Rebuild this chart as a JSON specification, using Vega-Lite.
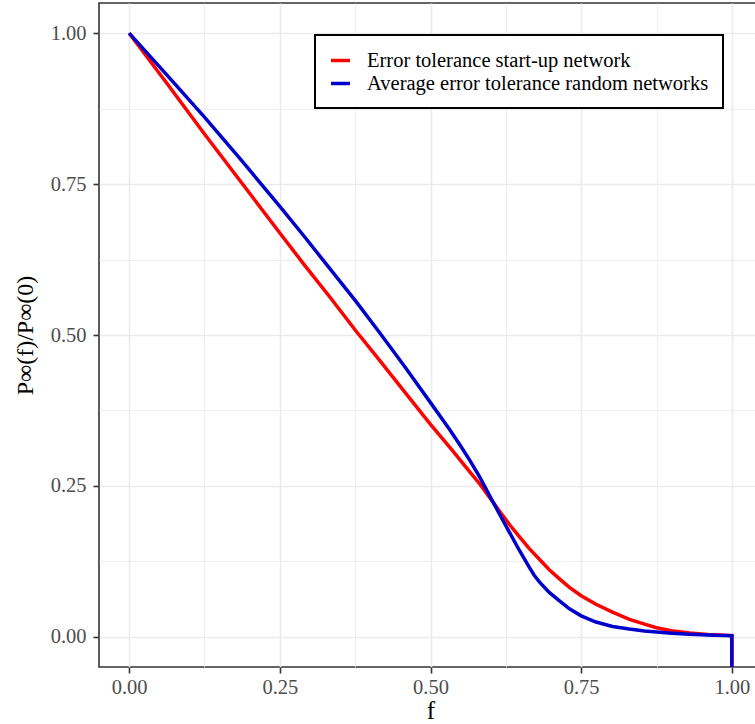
{
  "$schema": "https://vega.github.io/schema/vega-lite/v6.json",
  "width": 663,
  "height": 664,
  "autosize": {"type": "none"},
  "padding": {"left": 99, "top": 3, "right": 0, "bottom": 57},
  "background": "white",
  "config": {
    "view": {"stroke": "#333333", "strokeWidth": 1.6},
    "font": "Liberation Serif",
    "legend": {"strokeWidth": 2}
  },
  "data": {
    "values": [
      {"series": "Error tolerance start-up network", "i": 0, "f": 0, "p": 1.0},
      {"series": "Error tolerance start-up network", "i": 1, "f": 0.0625, "p": 0.917},
      {"series": "Error tolerance start-up network", "i": 2, "f": 0.125, "p": 0.833},
      {"series": "Error tolerance start-up network", "i": 3, "f": 0.1875, "p": 0.751},
      {"series": "Error tolerance start-up network", "i": 4, "f": 0.25, "p": 0.669},
      {"series": "Error tolerance start-up network", "i": 5, "f": 0.29, "p": 0.617},
      {"series": "Error tolerance start-up network", "i": 6, "f": 0.333, "p": 0.563},
      {"series": "Error tolerance start-up network", "i": 7, "f": 0.376, "p": 0.507},
      {"series": "Error tolerance start-up network", "i": 8, "f": 0.4163, "p": 0.457},
      {"series": "Error tolerance start-up network", "i": 9, "f": 0.4577, "p": 0.405},
      {"series": "Error tolerance start-up network", "i": 10, "f": 0.5, "p": 0.352},
      {"series": "Error tolerance start-up network", "i": 11, "f": 0.5345, "p": 0.311},
      {"series": "Error tolerance start-up network", "i": 12, "f": 0.5655, "p": 0.273},
      {"series": "Error tolerance start-up network", "i": 13, "f": 0.582, "p": 0.253},
      {"series": "Error tolerance start-up network", "i": 14, "f": 0.598, "p": 0.231},
      {"series": "Error tolerance start-up network", "i": 15, "f": 0.614, "p": 0.209},
      {"series": "Error tolerance start-up network", "i": 16, "f": 0.631, "p": 0.186},
      {"series": "Error tolerance start-up network", "i": 17, "f": 0.648, "p": 0.165},
      {"series": "Error tolerance start-up network", "i": 18, "f": 0.664, "p": 0.146},
      {"series": "Error tolerance start-up network", "i": 19, "f": 0.681, "p": 0.128},
      {"series": "Error tolerance start-up network", "i": 20, "f": 0.697, "p": 0.111},
      {"series": "Error tolerance start-up network", "i": 21, "f": 0.714, "p": 0.096},
      {"series": "Error tolerance start-up network", "i": 22, "f": 0.7305, "p": 0.082},
      {"series": "Error tolerance start-up network", "i": 23, "f": 0.75, "p": 0.068},
      {"series": "Error tolerance start-up network", "i": 24, "f": 0.7745, "p": 0.054},
      {"series": "Error tolerance start-up network", "i": 25, "f": 0.802, "p": 0.041},
      {"series": "Error tolerance start-up network", "i": 26, "f": 0.83, "p": 0.029},
      {"series": "Error tolerance start-up network", "i": 27, "f": 0.855, "p": 0.021},
      {"series": "Error tolerance start-up network", "i": 28, "f": 0.875, "p": 0.015},
      {"series": "Error tolerance start-up network", "i": 29, "f": 0.9, "p": 0.01},
      {"series": "Error tolerance start-up network", "i": 30, "f": 0.93, "p": 0.0065},
      {"series": "Error tolerance start-up network", "i": 31, "f": 0.96, "p": 0.004},
      {"series": "Error tolerance start-up network", "i": 32, "f": 1.0, "p": 0.002},
      {"series": "Error tolerance start-up network", "i": 33, "f": 1.0, "p": -0.06},
      {"series": "Average error tolerance random networks", "i": 0, "f": 0, "p": 1.0},
      {"series": "Average error tolerance random networks", "i": 1, "f": 0.0625, "p": 0.931},
      {"series": "Average error tolerance random networks", "i": 2, "f": 0.125, "p": 0.861},
      {"series": "Average error tolerance random networks", "i": 3, "f": 0.1875, "p": 0.788},
      {"series": "Average error tolerance random networks", "i": 4, "f": 0.25, "p": 0.713},
      {"series": "Average error tolerance random networks", "i": 5, "f": 0.29, "p": 0.664},
      {"series": "Average error tolerance random networks", "i": 6, "f": 0.333, "p": 0.61},
      {"series": "Average error tolerance random networks", "i": 7, "f": 0.376, "p": 0.556},
      {"series": "Average error tolerance random networks", "i": 8, "f": 0.4163, "p": 0.503},
      {"series": "Average error tolerance random networks", "i": 9, "f": 0.4577, "p": 0.447},
      {"series": "Average error tolerance random networks", "i": 10, "f": 0.5, "p": 0.388},
      {"series": "Average error tolerance random networks", "i": 11, "f": 0.532, "p": 0.343},
      {"series": "Average error tolerance random networks", "i": 12, "f": 0.55, "p": 0.316},
      {"series": "Average error tolerance random networks", "i": 13, "f": 0.5655, "p": 0.292},
      {"series": "Average error tolerance random networks", "i": 14, "f": 0.582, "p": 0.264},
      {"series": "Average error tolerance random networks", "i": 15, "f": 0.598, "p": 0.234},
      {"series": "Average error tolerance random networks", "i": 16, "f": 0.6144, "p": 0.2035},
      {"series": "Average error tolerance random networks", "i": 17, "f": 0.631, "p": 0.173},
      {"series": "Average error tolerance random networks", "i": 18, "f": 0.6476, "p": 0.143},
      {"series": "Average error tolerance random networks", "i": 19, "f": 0.664, "p": 0.115},
      {"series": "Average error tolerance random networks", "i": 20, "f": 0.672, "p": 0.102},
      {"series": "Average error tolerance random networks", "i": 21, "f": 0.681, "p": 0.0905},
      {"series": "Average error tolerance random networks", "i": 22, "f": 0.697, "p": 0.0735},
      {"series": "Average error tolerance random networks", "i": 23, "f": 0.714, "p": 0.0597},
      {"series": "Average error tolerance random networks", "i": 24, "f": 0.7305, "p": 0.0465},
      {"series": "Average error tolerance random networks", "i": 25, "f": 0.75, "p": 0.0348},
      {"series": "Average error tolerance random networks", "i": 26, "f": 0.7745, "p": 0.0245},
      {"series": "Average error tolerance random networks", "i": 27, "f": 0.802, "p": 0.0172},
      {"series": "Average error tolerance random networks", "i": 28, "f": 0.83, "p": 0.0128},
      {"series": "Average error tolerance random networks", "i": 29, "f": 0.855, "p": 0.0098},
      {"series": "Average error tolerance random networks", "i": 30, "f": 0.875, "p": 0.008},
      {"series": "Average error tolerance random networks", "i": 31, "f": 0.9, "p": 0.006},
      {"series": "Average error tolerance random networks", "i": 32, "f": 0.93, "p": 0.0042},
      {"series": "Average error tolerance random networks", "i": 33, "f": 0.96, "p": 0.003},
      {"series": "Average error tolerance random networks", "i": 34, "f": 1.0, "p": 0.0017},
      {"series": "Average error tolerance random networks", "i": 35, "f": 1.0, "p": -0.06}
    ]
  },
  "mark": {"type": "line", "strokeWidth": 3.5, "clip": true},
  "encoding": {
    "x": {
      "field": "f",
      "type": "quantitative",
      "scale": {"domain": [-0.05, 1.05], "nice": false, "zero": false},
      "axis": {
        "title": "f",
        "values": [0, 0.125, 0.25, 0.375, 0.5, 0.625, 0.75, 0.875, 1],
        "labelExpr": "(datum.value * 4) % 1 == 0 ? format(datum.value, '.2f') : ''",
        "grid": true,
        "gridColor": "#ebebeb",
        "gridWidth": {"condition": {"test": "(datum.value * 4) % 1 != 0", "value": 0.8}, "value": 1.6},
        "tickColor": "#333333",
        "tickSize": 6,
        "tickWidth": 1.6,
        "tickOpacity": {"condition": {"test": "(datum.value * 4) % 1 != 0", "value": 0}, "value": 1},
        "domain": false,
        "labelFont": "Liberation Serif",
        "labelFontSize": 20.5,
        "labelColor": "#4d4d4d",
        "labelPadding": 4,
        "labelFlush": false,
        "labelOverlap": false,
        "titleFont": "Liberation Serif",
        "titleFontSize": 25,
        "titleFontWeight": "normal",
        "titleColor": "black",
        "titlePadding": 1
      }
    },
    "y": {
      "field": "p",
      "type": "quantitative",
      "scale": {"domain": [-0.05, 1.05], "nice": false, "zero": false},
      "axis": {
        "title": "P∞(f)/P∞(0)",
        "values": [0, 0.125, 0.25, 0.375, 0.5, 0.625, 0.75, 0.875, 1],
        "labelExpr": "(datum.value * 4) % 1 == 0 ? format(datum.value, '.2f') : ''",
        "grid": true,
        "gridColor": "#ebebeb",
        "gridWidth": {"condition": {"test": "(datum.value * 4) % 1 != 0", "value": 0.8}, "value": 1.6},
        "tickColor": "#333333",
        "tickSize": 6,
        "tickWidth": 1.6,
        "tickOpacity": {"condition": {"test": "(datum.value * 4) % 1 != 0", "value": 0}, "value": 1},
        "domain": false,
        "labelFont": "Liberation Serif",
        "labelFontSize": 20.5,
        "labelColor": "#4d4d4d",
        "labelPadding": 7,
        "labelFlush": false,
        "labelOverlap": false,
        "titleFont": "Liberation Serif",
        "titleFontSize": 24,
        "titleFontWeight": "normal",
        "titleColor": "black",
        "titlePadding": 13
      }
    },
    "color": {
      "field": "series",
      "type": "nominal",
      "scale": {
        "domain": ["Error tolerance start-up network", "Average error tolerance random networks"],
        "range": ["#FF0000", "#0000CD"]
      },
      "legend": {
        "orient": "none",
        "legendX": 216,
        "legendY": 32,
        "title": null,
        "symbolType": "stroke",
        "symbolStrokeWidth": 3.5,
        "symbolSize": 361,
        "labelFont": "Liberation Serif",
        "labelFontSize": 20.5,
        "labelColor": "black",
        "labelLimit": 600,
        "labelOffset": 15,
        "rowPadding": 1,
        "padding": 14,
        "strokeColor": "black",
        "fillColor": "white"
      }
    },
    "order": {"field": "i", "type": "quantitative"}
  }
}
